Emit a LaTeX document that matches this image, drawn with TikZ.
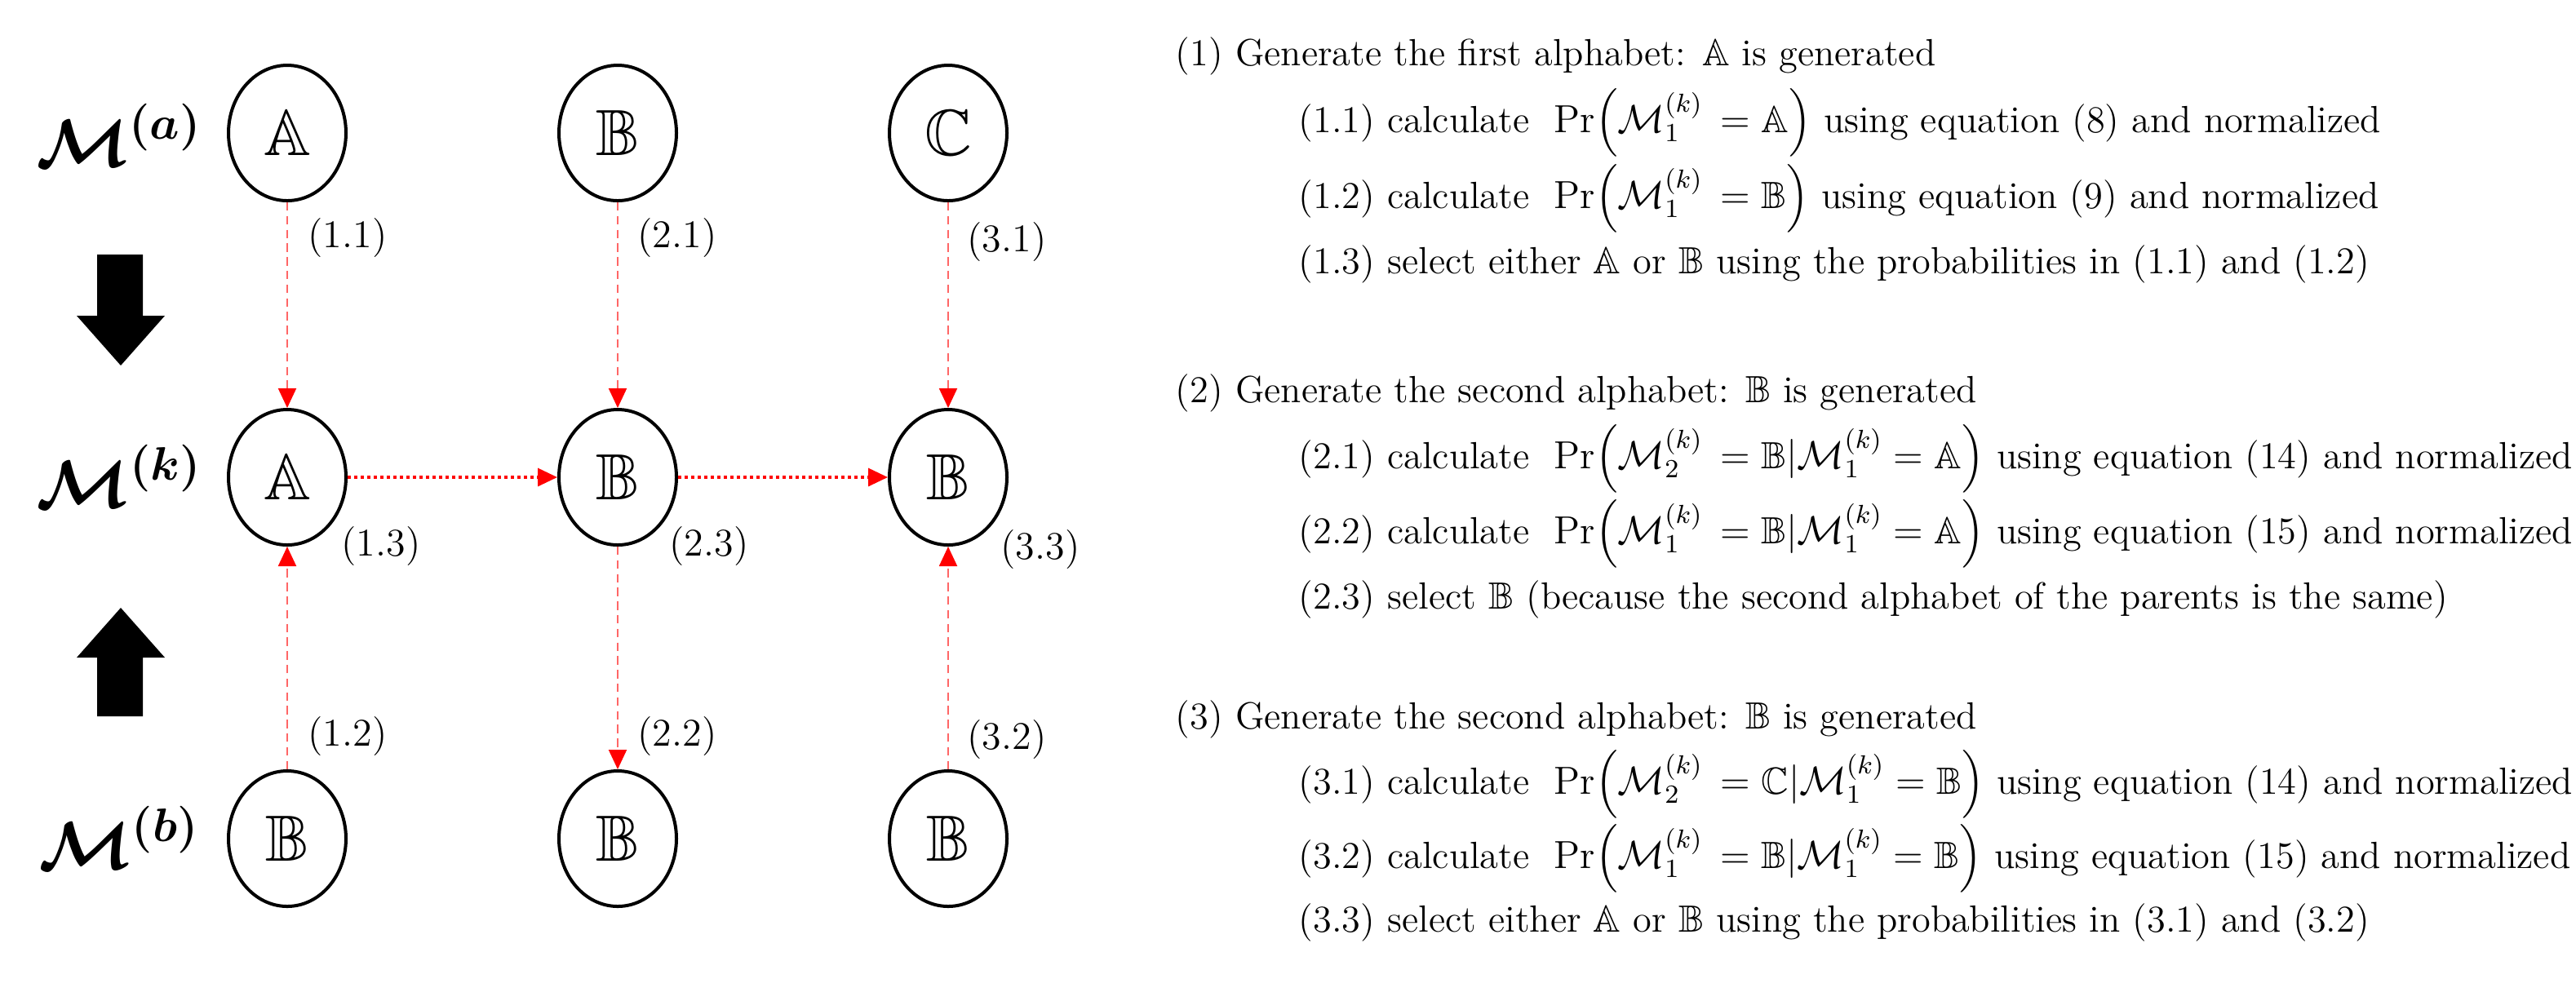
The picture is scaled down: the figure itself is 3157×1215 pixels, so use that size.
\documentclass[tikz,border=0pt]{standalone}
\usepackage{amsmath,amssymb,bm}
\usetikzlibrary{arrows.meta,shapes.geometric}
\newcommand{\Mk}[1]{\mathcal{M}_{#1}^{(k)}}
\begin{document}
\begin{tikzpicture}[x=0.25pt,y=-0.25pt,
  letter/.style={draw,ellipse,line width=1pt,minimum width=36pt,minimum height=41.5pt,inner sep=0pt,font=\fontsize{20}{24}\selectfont},
  vlink/.style={draw=red!60, line width=0.5pt, dash pattern=on 2.6pt off 1.6pt, -{Triangle[length=6pt,width=5.5pt,fill=red,color=red]}},
  hlink/.style={draw=red, line width=0.8pt, dash pattern=on 1pt off 1pt, -{Triangle[length=6pt,width=5.5pt,fill=red,color=red]}},
  lab/.style={font=\fontsize{12}{14}\selectfont, inner sep=0pt},
  txt/.style={anchor=base west, inner sep=0pt, font=\fontsize{11.6}{13}\selectfont},
  mlab/.style={font=\fontsize{21}{25}\selectfont, inner sep=0pt}
]
\useasboundingbox (0,0) rectangle (3157,1215);

% letter nodes
\node[letter] (a1) at (352,163) {$\mathbb{A}$};
\node[letter] (a2) at (757,163) {$\mathbb{B}$};
\node[letter] (a3) at (1162,163) {$\mathbb{C}$};
\node[letter] (k1) at (352,585) {$\mathbb{A}$};
\node[letter] (k2) at (757,585) {$\mathbb{B}$};
\node[letter] (k3) at (1162,585) {$\mathbb{B}$};
\node[letter] (b1) at (352,1028) {$\mathbb{B}$};
\node[letter] (b2) at (757,1028) {$\mathbb{B}$};
\node[letter] (b3) at (1162,1028) {$\mathbb{B}$};

% row labels
\node[mlab] (ma) at (146,166) {$\bm{\mathcal{M}^{(a)}}$};
\node[mlab] (mk) at (146,584) {$\bm{\mathcal{M}^{(k)}}$};
\node[mlab] (mb) at (146,1027) {$\bm{\mathcal{M}^{(b)}}$};

% big arrows
\fill (119,312) -- (175,312) -- (175,387) -- (202,387) -- (148,448) -- (94,387) -- (119,387) -- cycle;
\fill (148,745) -- (202,806) -- (175,806) -- (175,878) -- (119,878) -- (119,806) -- (94,806) -- cycle;

% connectors
\draw[vlink] (a1.south) -- (k1.north);
\draw[vlink] (b1.north) -- (k1.south);
\draw[vlink] (a2.south) -- (k2.north);
\draw[vlink] (k2.south) -- (b2.north);
\draw[vlink] (a3.south) -- (k3.north);
\draw[vlink] (b3.north) -- (k3.south);
\draw[hlink] (k1.east) -- (k2.west);
\draw[hlink] (k2.east) -- (k3.west);

% step labels
\node[lab] (l11) at (426,291) {(1.1)};
\node[lab] (l21) at (830,291) {(2.1)};
\node[lab] (l31) at (1234,297) {(3.1)};
\node[lab] (l13) at (467,669) {(1.3)};
\node[lab] (l23) at (869,669) {(2.3)};
\node[lab] (l33) at (1275,673) {(3.3)};
\node[lab] (l12) at (426,902) {(1.2)};
\node[lab] (l22) at (830,902) {(2.2)};
\node[lab] (l32) at (1234,906) {(3.2)};

% text
\node[txt] (t1) at (1440,80) {(1) Generate the first alphabet: $\mathbb{A}$ is generated};
\node[txt] (t11) at (1591,162) {(1.1) calculate\ \ $\Pr\!\left(\Mk{1}\, = \mathbb{A}\right)$ using equation (8) and normalized};
\node[txt] (t12) at (1591,255) {(1.2) calculate\ \ $\Pr\!\left(\Mk{1}\, = \mathbb{B}\right)$ using equation (9) and normalized};
\node[txt] (t13) at (1591,335) {(1.3) select either $\mathbb{A}$ or $\mathbb{B}$ using the probabilities in (1.1) and (1.2)};
\node[txt] (t2) at (1440,493) {(2) Generate the second alphabet: $\mathbb{B}$ is generated};
\node[txt] (t21) at (1591,574) {(2.1) calculate\ \ $\Pr\!\left(\Mk{2}\, = \mathbb{B}|\Mk{1} = \mathbb{A}\right)$ using equation (14) and normalized};
\node[txt] (t22) at (1591,666) {(2.2) calculate\ \ $\Pr\!\left(\Mk{1}\, = \mathbb{B}|\Mk{1} = \mathbb{A}\right)$ using equation (15) and normalized};
\node[txt] (t23) at (1591,746) {(2.3) select $\mathbb{B}$ (because the second alphabet of the parents is the same)};
\node[txt] (t3) at (1440,893) {(3) Generate the second alphabet: $\mathbb{B}$ is generated};
\node[txt] (t31) at (1591,973) {(3.1) calculate\ \ $\Pr\!\left(\Mk{2}\, = \mathbb{C}|\Mk{1} = \mathbb{B}\right)$ using equation (14) and normalized};
\node[txt] (t32) at (1591,1064) {(3.2) calculate\ \ $\Pr\!\left(\Mk{1}\, = \mathbb{B}|\Mk{1} = \mathbb{B}\right)$ using equation (15) and normalized};
\node[txt] (t33) at (1591,1142) {(3.3) select either $\mathbb{A}$ or $\mathbb{B}$ using the probabilities in (3.1) and (3.2)};
\end{tikzpicture}
\end{document}
